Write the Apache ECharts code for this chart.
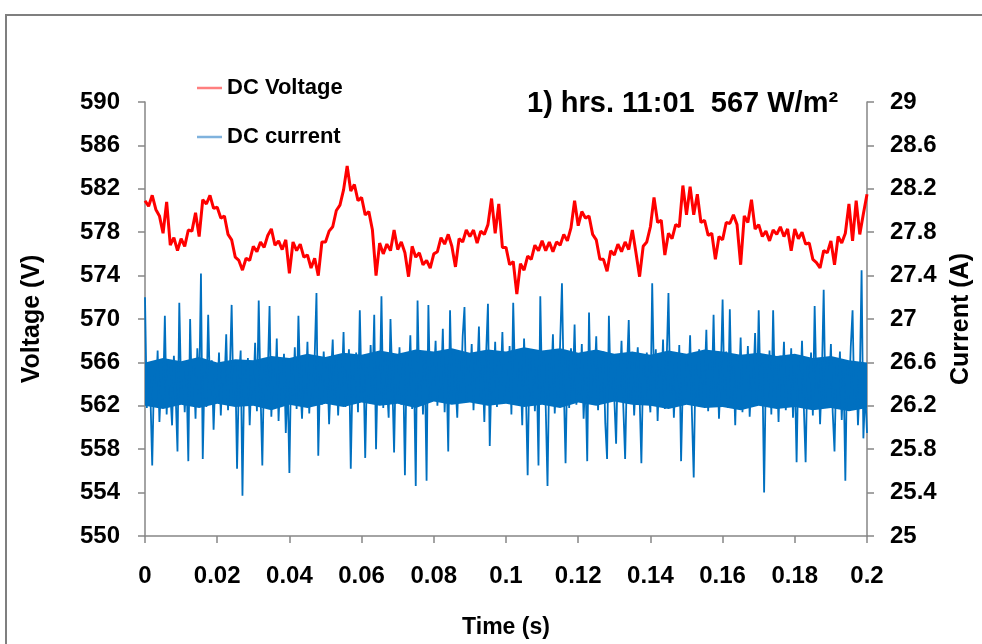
<!DOCTYPE html>
<html>
<head>
<meta charset="utf-8">
<script src="https://cdn.jsdelivr.net/npm/echarts@6/dist/echarts.min.js"></script>
<style>
html,body{margin:0;padding:0;background:#fff;overflow:hidden;width:982px;height:644px;}
#chart{width:982px;height:644px;display:block;}
</style>
</head>
<body>
<div id="chart"></div>
<script>
// ---- data ----
const titleText = '1) hrs. 11:01  567 W/m\u00b2';
const seriesNames = ['DC Voltage', 'DC current'];
const xTicks = { min: 0, max: 0.2, interval: 0.02 };
const voltTicks = { min: 550, max: 590, interval: 4 };
const currTicks = { min: 25, max: 29, interval: 0.4 };

const voltageStep = 0.001; // s between voltage samples
const voltage = [
580.9,580.4,581.4,580.1,579.5,577.9,580.8,576.8,577.5,576.3,
577.4,576.7,578.2,578.1,579.8,577.6,581.0,580.6,581.4,580.2,
580.3,579.3,579.5,577.8,577.3,575.7,575.4,574.5,575.6,575.4,
576.7,576.2,577.1,576.6,577.7,578.3,576.8,577.2,576.4,577.3,
574.2,577.1,576.3,576.9,575.7,575.9,574.7,575.6,574.0,577.1,
577.1,578.1,578.5,580.0,580.5,581.9,584.1,581.8,582.4,580.9,
581.2,579.6,579.9,578.2,574.0,577.0,576.0,576.9,576.3,578.2,
576.4,577.1,576.1,573.9,576.7,575.7,576.1,575.0,575.4,574.7,
576.0,576.2,577.5,576.9,577.8,576.7,574.8,577.4,577.1,578.2,
577.6,578.2,577.0,578.1,577.8,578.7,581.1,577.9,580.6,576.6,
576.6,575.0,575.3,572.3,575.1,574.5,575.8,575.5,576.8,576.3,
577.2,576.3,577.1,576.2,577.1,576.8,577.8,577.2,578.4,580.9,
578.6,579.9,579.3,579.5,577.8,577.3,575.5,575.5,574.4,576.3,
575.9,576.9,576.2,577.1,576.4,578.2,576.1,573.9,576.7,577.1,
578.5,581.2,578.9,579.1,575.9,577.9,577.4,578.7,578.5,582.3,
579.6,582.2,579.6,581.5,578.9,579.1,577.7,577.9,575.5,577.6,
577.3,578.9,578.8,579.6,578.7,575.0,579.5,578.9,581.0,578.3,
578.7,577.6,578.1,577.2,578.2,577.8,578.5,577.6,578.3,576.3,
578.3,577.4,578.0,576.9,577.0,575.5,575.2,574.7,576.3,576.1,
577.2,575.0,577.6,577.0,577.9,580.6,577.2,580.9,577.8,579.7,
581.5
];

const currentStep = 0.0005; // s between current samples
const current = [
27.20,26.18,26.55,26.30,25.65,26.48,26.22,26.71,26.05,26.44,26.26,27.03,26.12,26.58,26.33,26.02,26.66,26.29,25.78,27.15,
26.36,26.61,26.14,26.49,25.69,27.00,26.25,26.57,26.08,26.73,26.31,27.42,25.71,26.52,26.19,27.04,26.35,26.62,25.98,26.47,
26.27,26.69,26.11,26.54,26.38,26.86,26.16,26.50,27.13,26.24,26.60,25.62,26.43,26.71,25.37,26.55,26.20,26.64,26.02,26.48,
26.30,26.78,26.15,27.17,26.33,25.65,26.59,26.22,26.47,27.12,26.10,26.56,26.28,26.82,26.06,26.51,26.34,26.68,25.95,26.44,
25.58,26.62,26.29,26.74,26.17,27.03,26.40,26.08,26.57,26.31,26.79,26.13,26.52,26.26,26.65,27.24,25.74,26.49,26.21,26.70,
26.35,26.58,26.03,26.47,26.81,26.24,26.63,26.11,26.54,26.37,26.88,26.19,26.45,26.72,25.62,26.50,26.27,26.69,26.14,27.08,
26.32,26.61,25.72,26.55,26.23,26.76,26.36,27.04,25.80,26.58,26.29,27.21,26.18,26.64,26.40,26.09,27.00,26.44,25.77,26.67,
26.30,26.74,26.21,26.59,25.56,26.66,26.38,26.85,26.17,26.53,25.46,27.17,26.34,26.70,26.12,26.62,25.51,27.13,26.27,26.57,
26.43,26.80,26.20,26.66,26.35,26.91,26.14,26.58,25.78,27.08,26.29,26.72,26.41,26.09,26.63,26.32,26.84,27.11,26.24,26.55,
26.38,26.77,26.16,26.61,26.46,26.93,26.22,26.57,26.05,26.68,27.14,25.83,26.52,26.31,26.79,26.19,26.63,26.40,26.88,26.26,
26.54,26.33,26.75,26.12,27.15,26.44,26.69,26.23,26.58,26.02,26.82,26.36,25.56,26.64,26.28,26.71,26.15,26.55,25.65,27.21,
26.31,26.66,26.20,25.46,26.59,26.37,26.86,26.13,26.50,26.27,26.78,27.33,26.39,25.67,26.62,26.18,26.73,26.34,26.95,26.21,
26.56,26.30,26.77,26.08,26.49,25.69,27.06,26.25,26.63,26.41,26.84,26.16,26.58,26.33,26.70,26.04,25.71,27.03,26.36,26.61,
26.27,25.85,26.66,26.38,26.80,26.19,25.71,26.52,26.99,26.24,26.60,26.11,26.47,26.74,26.30,25.67,26.57,26.21,26.69,26.35,
26.14,27.33,26.43,26.72,26.06,26.55,26.29,26.81,26.17,26.61,27.24,26.32,26.68,26.09,26.50,26.26,26.76,25.69,26.44,26.22,
26.64,26.37,26.85,26.13,25.54,26.58,26.28,26.72,26.20,26.53,26.40,26.90,26.15,26.62,26.31,27.04,26.24,26.67,26.08,26.49,
27.18,26.33,26.70,26.18,27.09,26.27,26.57,26.02,26.64,26.36,26.83,26.14,26.51,26.29,26.75,26.10,26.46,26.39,26.87,26.21,
27.08,26.34,26.60,25.40,26.55,26.23,26.71,26.12,27.08,26.30,26.58,26.05,26.66,26.38,26.79,26.16,26.48,26.27,26.73,26.09,
26.52,25.68,26.63,26.31,26.80,26.19,25.68,26.57,26.25,26.69,26.11,27.12,26.36,26.62,26.03,26.47,27.27,26.22,26.65,26.34,
26.77,26.14,25.78,26.56,26.29,26.70,26.07,26.52,25.51,26.61,26.26,26.74,27.08,26.18,26.58,26.02,26.43,27.45,25.90,26.35,
25.95
];

// solid core of the dense current trace (read every 0.005 s)
const bandStep = 0.005;
const currentCoreLow = [
26.20,26.17,26.21,26.18,26.22,26.19,26.20,26.16,26.21,26.18,
26.22,26.19,26.23,26.20,26.22,26.18,26.24,26.21,26.23,26.20,
26.22,26.19,26.21,26.18,26.23,26.20,26.24,26.21,26.20,26.17,
26.21,26.18,26.19,26.16,26.20,26.17,26.19,26.16,26.18,26.15,26.18
];
const currentCoreHigh = [
26.60,26.64,26.61,26.65,26.60,26.63,26.62,26.66,26.64,26.68,
26.65,26.69,26.67,26.71,26.68,26.72,26.70,26.73,26.69,26.72,
26.70,26.74,26.71,26.73,26.69,26.72,26.68,26.70,26.67,26.71,
26.68,26.72,26.70,26.67,26.69,26.66,26.68,26.64,26.66,26.62,26.60
];

// ---- build series data ----
const voltageData = voltage.map((v, i) => [+(i * voltageStep).toFixed(4), v]);
const currentData = current.map((v, i) => [+(i * currentStep).toFixed(5), v]);
const coreData = currentCoreLow.map((lo, i) => [+(i * bandStep).toFixed(3), lo, currentCoreHigh[i]]);

const FONT = "'Liberation Sans', Arial, sans-serif";
const axisGray = '#868686';
const blue = '#0070c0';
const legendText = { fontFamily: FONT, fontSize: 22, fontWeight: 'bold', color: '#000' };

const chart = echarts.init(document.getElementById('chart'), null, { renderer: 'canvas', width: 982, height: 644 });
chart.setOption({
  animation: false,
  backgroundColor: '#ffffff',
  textStyle: { fontFamily: FONT },
  graphic: [{
    type: 'rect', z: -10,
    shape: { x: 6, y: 15, width: 1010, height: 700 },
    style: { fill: 'none', stroke: '#7f7f7f', lineWidth: 2 }
  }],
  title: {
    text: titleText,
    left: 522, top: 84,
    textStyle: { fontFamily: FONT, fontSize: 29, fontWeight: 'bold', color: '#000' }
  },
  legend: [
    { data: [seriesNames[0]], left: 192, top: 72, icon: 'rect', itemWidth: 25, itemHeight: 2.5,
      textStyle: legendText },
    { data: [seriesNames[1]], left: 192, top: 121, icon: 'rect', itemWidth: 25, itemHeight: 2.5,
      textStyle: legendText }
  ],
  grid: { left: 145, right: 110, top: 102, bottom: 103, containLabel: false },
  xAxis: {
    type: 'value', min: xTicks.min, max: xTicks.max, interval: xTicks.interval,
    name: 'Time (s)', nameLocation: 'middle', nameGap: 80,
    nameTextStyle: { fontFamily: FONT, fontSize: 23, fontWeight: 'bold', color: '#000' },
    axisLine: { show: true, onZero: false, lineStyle: { color: axisGray, width: 1.5 } },
    axisTick: { show: true, inside: false, length: 7, lineStyle: { color: axisGray, width: 1.5 } },
    splitLine: { show: false },
    axisLabel: { margin: 28, fontFamily: FONT, fontSize: 24, fontWeight: 'bold', color: '#000',
      formatter: v => String(Math.round(v * 100) / 100) }
  },
  yAxis: [{
    type: 'value', position: 'left', min: voltTicks.min, max: voltTicks.max, interval: voltTicks.interval,
    name: 'Voltage (V)', nameLocation: 'middle', nameGap: 100,
    nameTextStyle: { fontFamily: FONT, fontSize: 25, fontWeight: 'bold', color: '#000' },
    axisLine: { show: true, lineStyle: { color: axisGray, width: 1.5 } },
    axisTick: { show: true, inside: false, length: 7, lineStyle: { color: axisGray, width: 1.5 } },
    splitLine: { show: false },
    axisLabel: { margin: 25, fontFamily: FONT, fontSize: 24, fontWeight: 'bold', color: '#000' }
  }, {
    type: 'value', position: 'right', min: currTicks.min, max: currTicks.max, interval: currTicks.interval,
    name: 'Current (A)', nameLocation: 'middle', nameGap: 82,
    nameTextStyle: { fontFamily: FONT, fontSize: 25, fontWeight: 'bold', color: '#000' },
    axisLine: { show: true, lineStyle: { color: axisGray, width: 1.5 } },
    axisTick: { show: true, inside: false, length: 7, lineStyle: { color: axisGray, width: 1.5 } },
    splitLine: { show: false },
    axisLabel: { margin: 23, fontFamily: FONT, fontSize: 24, fontWeight: 'bold', color: '#000',
      formatter: v => String(Math.round(v * 10) / 10) }
  }],
  series: [{
    name: seriesNames[0], type: 'line', yAxisIndex: 0, data: voltageData,
    showSymbol: false, symbol: 'none', sampling: null,
    lineStyle: { color: '#ff0000', width: 3 }, itemStyle: { color: '#ff7f7f' }, z: 3
  }, {
    name: 'currentCore', type: 'custom', yAxisIndex: 1, z: 1, silent: true, clip: true,
    data: [coreData[0]],
    renderItem: function (params, api) {
      const pts = [];
      coreData.forEach(d => pts.push(api.coord([d[0], d[2]])));
      for (let i = coreData.length - 1; i >= 0; i--) pts.push(api.coord([coreData[i][0], coreData[i][1]]));
      return { type: 'polygon', shape: { points: pts }, style: { fill: blue, stroke: null } };
    }
  }, {
    name: seriesNames[1], type: 'line', yAxisIndex: 1, data: currentData,
    showSymbol: false, symbol: 'none', sampling: null,
    lineStyle: { color: blue, width: 1.8 }, itemStyle: { color: '#7fb2dd' }, z: 2
  }]
});
</script>
</body>
</html>
